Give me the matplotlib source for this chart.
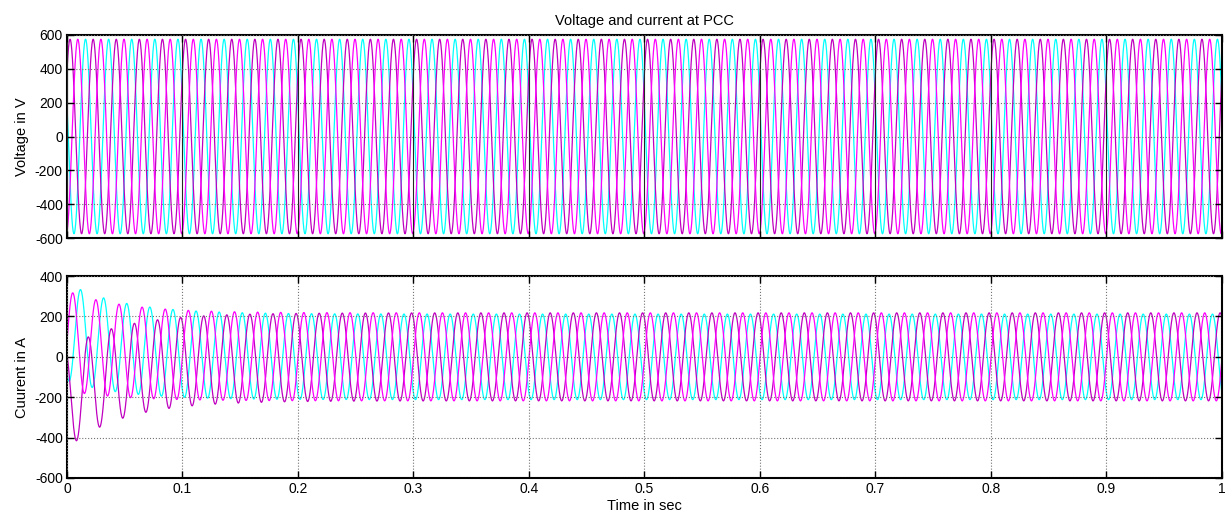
import numpy as np
import matplotlib
matplotlib.use('Agg')
import matplotlib.pyplot as plt

plt.rcParams['font.family'] = ['Liberation Sans', 'DejaVu Sans']
plt.rcParams['font.size'] = 9.5
plt.rcParams['axes.unicode_minus'] = False

# values
freq = 50.0                     # Hz, ~5 cycles per 0.1 s
t_end = 1.0
dt = 1e-4
phases = ['a', 'b', 'c']        # bright magenta, cyan, dark magenta

v_amp = [575, 575, 575]                 # V peak
v_peak_t = [0.0094, 0.0161, 0.0027]     # time of first positive peak, s

i_amp_steady = [218, 212, 218]          # A peak after transient
i_amp_extra = [30, 30, 30]              # extra AC amplitude at t=0
i_peak_t = [0.0051, 0.0118, 0.0184]     # time of first positive peak, s
i_dc0 = [80, 125, -205]                 # DC offset at t=0, A
i_tau = 0.048                           # decay time constant, s

x_ticks = [0, 0.1, 0.2, 0.3, 0.4, 0.5, 0.6, 0.7, 0.8, 0.9, 1]
x_labels = ['0', '0.1', '0.2', '0.3', '0.4', '0.5', '0.6', '0.7', '0.8', '0.9', '1']
v_ticks = [-600, -400, -200, 0, 200, 400, 600]
i_ticks = [-600, -400, -200, 0, 200, 400]

colors = {'a': '#ff00ff', 'b': '#00ffff', 'c': '#c000c0'}
draw_order = ['b', 'c', 'a']

t = np.arange(0, t_end + dt / 2, dt)
w = 2 * np.pi * freq

volt = {}
curr = {}
for k, p in enumerate(phases):
    volt[p] = v_amp[k] * np.cos(w * (t - v_peak_t[k]))
    env = np.exp(-t / i_tau)
    curr[p] = (i_amp_steady[k] + i_amp_extra[k] * env) * np.cos(w * (t - i_peak_t[k])) \
        + i_dc0[k] * env


def style_axes(ax, yticks, dark_vgrid=False):
    ax.set_xlim(0, 1)
    ax.set_ylim(yticks[0], yticks[-1])
    ax.set_xticks(x_ticks)
    ax.set_yticks(yticks)
    ax.tick_params(direction='in', length=5, width=1, top=True, right=True,
                   colors='black', labelsize=10, pad=3)
    for s in ax.spines.values():
        s.set_linewidth(1.5)
        s.set_color('black')
    ax.grid(True, axis='y', color='0.45', linestyle=':', linewidth=0.8)
    if dark_vgrid:
        ax.grid(True, axis='x', color='0.15', linestyle='-', linewidth=0.8)
    else:
        ax.grid(True, axis='x', color='0.45', linestyle=':', linewidth=0.8)
    ax.set_axisbelow(False)


fig = plt.figure(figsize=(12.26, 5.2), dpi=100)
ax1 = fig.add_axes([0.0546, 0.5423, 0.9421, 0.3904])
ax2 = fig.add_axes([0.0546, 0.0808, 0.9421, 0.3882])

for p in draw_order:
    ax1.plot(t, volt[p], color=colors[p], linewidth=0.9)
    ax2.plot(t, curr[p], color=colors[p], linewidth=0.9)

style_axes(ax1, v_ticks, dark_vgrid=True)
ax1.set_xticklabels([])
ax1.set_ylabel('Voltage in V', fontsize=10.5, labelpad=4)
ax1.set_title('Voltage and current at PCC', fontsize=10.5, pad=7)

style_axes(ax2, i_ticks)
ax2.set_xticklabels(x_labels)
ax2.set_ylabel('Cuurent in A', fontsize=10.5, labelpad=4)
ax2.set_xlabel('Time in sec', fontsize=10.5, labelpad=2)

fig.savefig('out.png', dpi=100, facecolor='white')
